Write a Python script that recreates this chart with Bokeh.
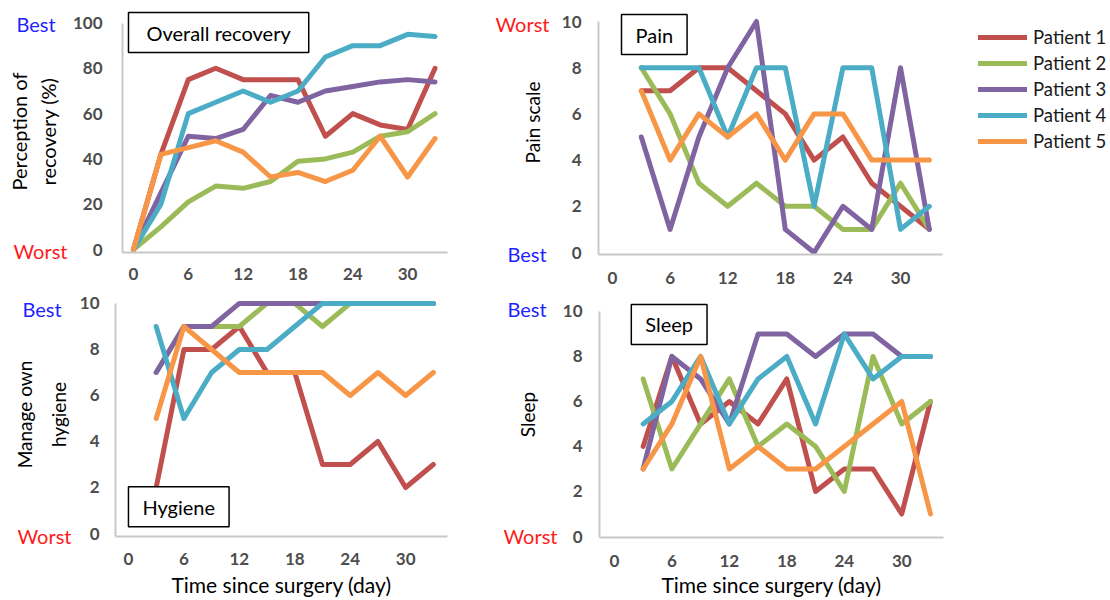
import math
from bokeh.plotting import figure
from bokeh.models import Range1d, FixedTicker, Label, Legend, LegendItem
from bokeh.layouts import row, column
from bokeh.embed import file_html
from bokeh.resources import INLINE

FONT = "Lato"
COLORS = ["#C0504D", "#9BBB59", "#8064A2", "#4BACC6", "#F79646"]
PATIENTS = ["Patient 1", "Patient 2", "Patient 3", "Patient 4", "Patient 5"]

# ---------------- data ----------------
days_recovery = [0, 3, 6, 9, 12, 15, 18, 21, 24, 27, 30, 33]
days = [3, 6, 9, 12, 15, 18, 21, 24, 27, 30, 33]
x_ticks = [0, 6, 12, 18, 24, 30]
pct_ticks = [0, 20, 40, 60, 80, 100]
score_ticks = [0, 2, 4, 6, 8, 10]

recovery_p1 = [0, 42, 75, 80, 75, 75, 75, 50, 60, 55, 53, 80]
recovery_p2 = [0, 10, 21, 28, 27, 30, 39, 40, 43, 50, 52, 60]
recovery_p3 = [0, 25, 50, 49, 53, 68, 65, 70, 72, 74, 75, 74]
recovery_p4 = [0, 20, 60, 65, 70, 65, 70, 85, 90, 90, 95, 94]
recovery_p5 = [0, 42, 45, 48, 43, 32, 34, 30, 35, 50, 32, 49]

pain_p1 = [7, 7, 8, 8, 7, 6, 4, 5, 3, 2, 1]
pain_p2 = [8, 6, 3, 2, 3, 2, 2, 1, 1, 3, 1]
pain_p3 = [5, 1, 5, 8, 10, 1, 0, 2, 1, 8, 1]
pain_p4 = [8, 8, 8, 5, 8, 8, 2, 8, 8, 1, 2]
pain_p5 = [7, 4, 6, 5, 6, 4, 6, 6, 4, 4, 4]

hygiene_p1 = [2, 8, 8, 9, 7, 7, 3, 3, 4, 2, 3]
hygiene_p2 = [7, 9, 9, 9, 10, 10, 9, 10, 10, 10, 10]
hygiene_p3 = [7, 9, 9, 10, 10, 10, 10, 10, 10, 10, 10]
hygiene_p4 = [9, 5, 7, 8, 8, 9, 10, 10, 10, 10, 10]
hygiene_p5 = [5, 9, 8, 7, 7, 7, 7, 6, 7, 6, 7]

sleep_p1 = [4, 8, 5, 6, 5, 7, 2, 3, 3, 1, 6]
sleep_p2 = [7, 3, 5, 7, 4, 5, 4, 2, 8, 5, 6]
sleep_p3 = [3, 8, 7, 5, 9, 9, 8, 9, 9, 8, 8]
sleep_p4 = [5, 6, 8, 5, 7, 8, 5, 9, 7, 8, 8]
sleep_p5 = [3, 5, 8, 3, 4, 3, 3, 4, 5, 6, 1]

BLUE = "#1f1fff"
RED = "#ff1a1a"


def cal_range(px_a, val_a, px_b, val_b, edge0, edge1):
    ppu = (px_b - px_a) / (val_b - val_a)
    return (val_a + (edge0 - px_a) / ppu, val_a + (edge1 - px_a) / ppu)


def blank(x0, y0, w, h, bl=0, bt=0):
    g = figure(width=w, height=h, title=None,
               x_range=Range1d(x0 + bl, x0 + w), y_range=Range1d(y0 + h, y0 + bt),
               x_axis_type=None, y_axis_type=None, toolbar_location=None,
               output_backend="svg", outline_line_color=None,
               min_border_left=bl, min_border_top=bt, min_border_right=0, min_border_bottom=0,
               background_fill_color="white", border_fill_color="white")
    g.grid.visible = False
    return g


def gutter(x0, y0, w, h, words, ylabel, ylabel_pos, size, line_height):
    g = blank(x0, y0, w, h)
    for word, color, (lx, ly) in words:
        g.add_layout(Label(x=lx, y=ly, text=word, text_align="left", text_baseline="middle",
                           text_font=FONT, text_font_size="20px", text_color=color))
    g.add_layout(Label(x=ylabel_pos[0], y=ylabel_pos[1], text=ylabel, angle=math.pi / 2,
                       text_align="center", text_baseline="middle", text_font=FONT,
                       text_font_size=size, text_color="black",
                       text_line_height=line_height))
    return g


def make_panel(cfg):
    fx, fy, fw, fh = cfg["fig"]
    fl, fr, ft, fb = cfg["frame"]
    xr = cal_range(*cfg["xcal"], fl, fr)
    yr = cal_range(*cfg["ycal"], fb, ft)
    p = figure(width=fw, height=fh, title=None,
               x_range=Range1d(*xr), y_range=Range1d(*yr),
               output_backend="svg", toolbar_location=None,
               min_border_left=fl - fx, min_border_right=fx + fw - fr,
               min_border_top=ft - fy, min_border_bottom=fy + fh - fb,
               outline_line_color=None, background_fill_color="white",
               border_fill_color="white")
    p.grid.visible = False

    def px2x(px):
        return xr[0] + (px - fl) / (fr - fl) * (xr[1] - xr[0])

    def px2y(py):
        return yr[1] - (py - ft) / (fb - ft) * (yr[1] - yr[0])

    for ax in (p.xaxis[0], p.yaxis[0]):
        ax.axis_line_color = "#c8c8c8"
        ax.axis_line_width = 2
        ax.major_tick_line_color = None
        ax.minor_tick_line_color = None
        ax.major_tick_out = 0
        ax.major_tick_in = 0
        ax.major_label_text_font = FONT
        ax.major_label_text_font_size = "17px"
        ax.major_label_text_font_style = "bold"
        ax.major_label_text_color = "#4d4d4d"
        ax.axis_label_text_font = FONT
        ax.axis_label_text_font_style = "normal"
        ax.axis_label_text_color = "black"
    p.xaxis.ticker = FixedTicker(ticks=x_ticks)
    p.yaxis.ticker = FixedTicker(ticks=cfg["yticks"])
    p.yaxis.bounds = (yr[0], cfg["yticks"][-1])
    p.xaxis.major_label_standoff = cfg["xstandoff"]
    p.yaxis.major_label_standoff = cfg["ystandoff"]
    if cfg.get("xlabel"):
        p.xaxis.axis_label = cfg["xlabel"]
        p.xaxis.axis_label_text_font_size = "21px"
        p.xaxis.axis_label_standoff = cfg["xlabel_standoff"]

    for ys, c in zip(cfg["series"], COLORS):
        p.line(cfg["xs"], ys, line_color=c, line_width=5,
               line_join="round", line_cap="round")

    bl, bt = cfg["box"]
    p.add_layout(Label(x=px2x(bl), y=px2y(bt), text=cfg["title"], anchor="top_left",
                       padding=(cfg["box_hpad"], 8), border_line_color="black",
                       border_line_width=1.5, background_fill_color="white",
                       text_font=FONT, text_font_size="20px", text_color="black"))
    return p


R1 = 290          # height of the top row
R2 = 309          # height of the bottom row (starts at R1)

# ---------------- row 1 ----------------
g_tl = gutter(0, 0, 69, R1,
              [("Best", BLUE, (16, 23)), ("Worst", RED, (13, 250))],
              "Perception of\nrecovery (%)", (33, 131), "20px", 1.2)
tl = make_panel(dict(
    fig=(69, 0, 401, R1), frame=(121, 447, 0, 252),
    xcal=(132, 0, 407, 30), ycal=(249, 0, 22.5, 100),
    xs=days_recovery,
    series=[recovery_p1, recovery_p2, recovery_p3, recovery_p4, recovery_p5],
    yticks=pct_ticks, xstandoff=15, ystandoff=20,
    title="Overall recovery", box=(127, 12), box_hpad=18))

g_tr = gutter(470, 0, 83, R1,
              [("Worst", RED, (495, 23)), ("Best", BLUE, (507, 253))],
              "Pain scale", (532, 122), "19px", 1.1)
tr = make_panel(dict(
    fig=(553, 0, 398, R1), frame=(598, 942, 0, 254),
    xcal=(612, 0, 900, 30), ycal=(252, 0, 21, 10),
    xs=days,
    series=[pain_p1, pain_p2, pain_p3, pain_p4, pain_p5],
    yticks=score_ticks, xstandoff=17, ystandoff=17,
    title="Pain", box=(621, 14), box_hpad=14))

# legend
lf = blank(951, 0, 159, R1, bl=27, bt=26)
items = []
for name, c, ys in zip(PATIENTS, COLORS, [pain_p1, pain_p2, pain_p3, pain_p4, pain_p5]):
    r = lf.line(days, ys, line_color=c, line_width=5, line_cap="round", visible=False)
    items.append(LegendItem(label=name, renderers=[r]))
legend = Legend(items=items, location="top_left", margin=0, padding=0,
                border_line_color=None, background_fill_alpha=0,
                inactive_fill_alpha=0,
                glyph_width=49, glyph_height=20, label_standoff=6, spacing=4,
                label_text_font=FONT, label_text_font_size="18.5px",
                label_text_color="#1a1a1a", label_height=20)
lf.add_layout(legend)

# ---------------- row 2 ----------------
g_bl = gutter(0, R1, 76, R2,
              [("Best", BLUE, (22, 308)), ("Worst", RED, (17, 535))],
              "Manage own\nhygiene", (41, 414), "19px", 1.5)
bl = make_panel(dict(
    fig=(76, R1, 394, R2), frame=(114, 447, R1, 537),
    xcal=(127, 0, 405, 30), ycal=(534, 0, 303, 10),
    xs=days,
    series=[hygiene_p1, hygiene_p2, hygiene_p3, hygiene_p4, hygiene_p5],
    yticks=score_ticks, xstandoff=16, ystandoff=16,
    xlabel="Time since surgery (day)", xlabel_standoff=4,
    title="Hygiene", box=(127, 487), box_hpad=14))

g_br = gutter(470, R1, 89, R2,
              [("Best", BLUE, (507, 308)), ("Worst", RED, (503, 535))],
              "Sleep", (527, 414), "19px", 1.1)
br = make_panel(dict(
    fig=(559, R1, 392, R2), frame=(597, 943, R1, 538),
    xcal=(612, 0, 901, 30), ycal=(537, 0, 311, 10),
    xs=days,
    series=[sleep_p1, sleep_p2, sleep_p3, sleep_p4, sleep_p5],
    yticks=score_ticks, xstandoff=17, ystandoff=17,
    xlabel="Time since surgery (day)", xlabel_standoff=2,
    title="Sleep", box=(629, 304), box_hpad=14))

layout = column(
    row(column(g_tl), column(tl), column(g_tr), column(tr), column(lf)),
    row(column(g_bl), column(bl), column(g_br), column(br)),
)
open("out.html", "w").write(file_html(layout, INLINE))
